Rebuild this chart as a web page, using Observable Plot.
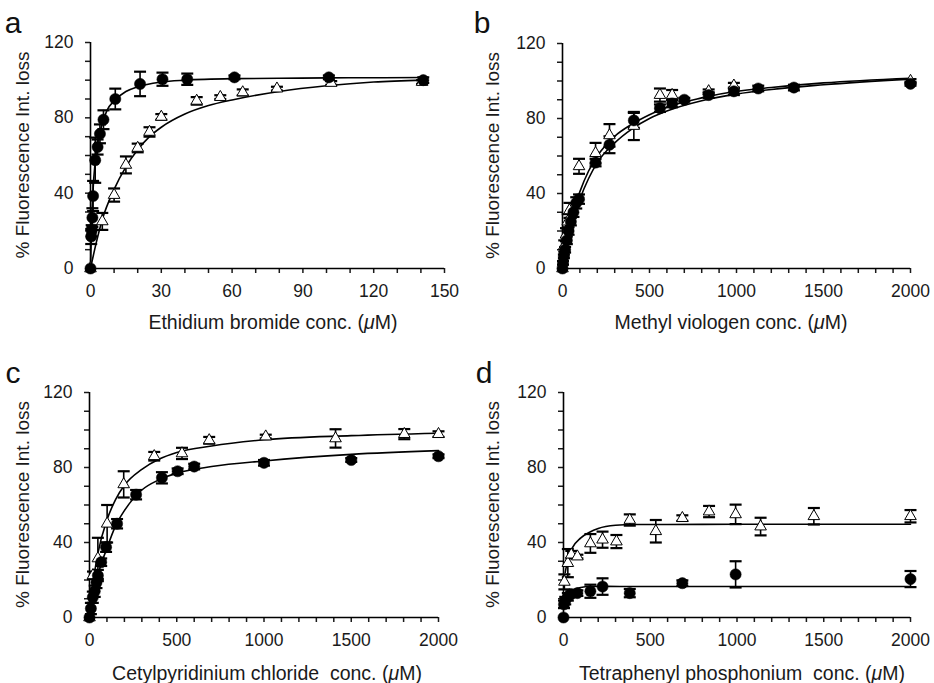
<!DOCTYPE html>
<html><head><meta charset="utf-8">
<script src="https://cdn.jsdelivr.net/npm/d3@7"></script>
<script src="https://cdn.jsdelivr.net/npm/@observablehq/plot@0.6"></script>
<style>
body{margin:0;background:#fff;width:934px;height:683px;position:relative;overflow:hidden;font-family:"Liberation Sans",Arial,sans-serif;}
.panel{position:absolute;}
</style></head><body>
<div id="pa" class="panel" style="left:0;top:0"></div>
<div id="pb" class="panel" style="left:467px;top:0"></div>
<div id="pc" class="panel" style="left:0;top:341px"></div>
<div id="pd" class="panel" style="left:467px;top:341px"></div>
<script>
// ---------- Data ----------
const yTickLabels = [0, 40, 80, 120];
const aXTickLabels = [0, 30, 60, 90, 120, 150];
const bXTickLabels = [0, 500, 1000, 1500, 2000];

// Panel a: Ethidium bromide
const aCircX = [0, 0.3, 0.5, 0.8, 1.1, 2, 3, 4, 5.5, 10.5, 21, 30.5, 41, 61, 101, 141];
const aCircY = [0, 17, 20, 27, 38.5, 57.5, 64.5, 71.5, 79, 90, 98, 100.5, 100.5, 101.5, 101.5, 100];
const aCircE = [0, 4, 3, 5, 8, 12, 4, 5, 5, 5.5, 6.5, 3.5, 3, 1, 1, 1.5];
const aTriX = [0, 5, 10, 15, 20, 25, 30, 45, 55, 64.5, 79, 102, 140.5];
const aTriY = [0, 25, 39, 55, 64, 72.5, 80.5, 89, 91, 93.5, 95.5, 98.5, 99];
const aTriE = [0, 4.5, 3.5, 4.5, 2.3, 2.5, 1.5, 2, 1, 1.6, 1, 1, 1];
const aFitCircX = [0, 0.5, 1, 2, 3, 4, 5, 7, 10, 15, 20, 30, 40, 60, 80, 100, 120, 141];
const aFitCircY = [0, 25, 40, 57, 66, 72, 77, 84, 89, 94, 96.5, 99, 100, 100.8, 101, 101.2, 101.3, 101.4];
const aFitTriX = [0, 2.5, 5, 10, 15, 20, 25, 30, 40, 50, 60, 80, 100, 120, 141];
const aFitTriY = [0, 14, 26, 42, 54, 63, 70, 75, 82, 86.5, 89.5, 94, 97, 99, 100];

// Panel b: Methyl viologen
const bCircX = [0, 3, 8, 15, 25, 35, 48, 63, 79, 95, 190, 270, 410, 560, 630, 700, 840, 985, 1125, 1330, 2000];
const bCircY = [0, 3, 6.5, 10, 15, 20, 25, 30, 35, 37, 56.5, 66, 79, 85.5, 88, 90, 92.5, 94.5, 96, 96.5, 98.5];
const bCircE = [0, 1, 1, 1.5, 2, 2, 2, 2.5, 3, 2.5, 2, 4.5, 4, 2, 2, 1, 1.5, 2, 1.5, 1.5, 1];
const bTriX = [0, 10, 20, 30, 40, 95, 190, 270, 410, 560, 630, 840, 985, 2000];
const bTriY = [0, 12, 18, 25, 31, 54.5, 61.5, 71, 76, 92.5, 92.5, 94.5, 97.5, 100];
const bTriE = [0, 3, 3.5, 4, 4, 4, 5.5, 6, 7.5, 3.5, 2.7, 1, 1.5, 1];
const bFitX = [0, 25, 50, 100, 150, 200, 300, 400, 500, 600, 800, 1000, 1200, 1500, 2000];
const bFitCircY = [0, 12, 22, 37, 48, 56.5, 67, 74.5, 80, 84, 89.5, 93, 95.5, 98, 101];
const bFitTriY = [0, 14, 26, 41, 52, 60, 70.5, 77, 82, 86, 91, 94.5, 96.5, 99, 101.5];

// Panel c: Cetylpyridinium chloride
const cCircX = [0, 8, 19, 30, 40, 48, 67, 95, 158, 267, 415, 505, 600, 1000, 1500, 2000];
const cCircY = [0, 4.8, 10.8, 14, 18.7, 22.4, 29.5, 37.5, 50, 65.5, 74.5, 78, 80.5, 82.5, 84, 86];
const cCircE = [0, 3, 3, 3, 3, 3, 2, 2.5, 2.5, 2.5, 3, 1.5, 1.5, 1.5, 1, 1];
const cTriX = [0, 20, 48, 101, 196, 371, 530, 686, 1010, 1410, 1804, 2000];
const cTriY = [0, 22.5, 31.5, 50, 71, 86, 87.5, 94.5, 96.5, 95.5, 97.8, 97.8];
const cTriE = [0, 2, 11, 10, 7, 2.3, 3, 1.8, 1, 4.9, 2.7, 1.5];
const cFitX = [0, 20, 50, 100, 150, 200, 300, 400, 500, 700, 1000, 1500, 2000];
const cFitCircY = [0, 10, 23, 37, 49, 57, 68, 73.5, 77, 80.5, 83.5, 87, 89];
const cFitTriY = [0, 18, 35, 52, 63, 70.5, 79, 84.5, 88, 91.5, 94.8, 97, 98.3];

// Panel d: Tetraphenyl phosphonium
const dCircX = [0, 3, 10, 25, 45, 80, 155, 225, 382, 685, 992, 2000];
const dCircY = [0, 7, 9, 11, 12.5, 13, 14, 16.5, 13, 18.3, 23, 20.5];
const dCircE = [0, 2, 2, 2, 1.5, 1.5, 3.5, 4.4, 2.2, 1.5, 7, 4.3];
const dTriX = [5, 25, 45, 80, 155, 225, 305, 382, 532, 685, 839, 992, 1136, 1443, 2000];
const dTriY = [19, 29, 33.5, 32.5, 39.5, 41.5, 40.5, 52, 46, 53, 56.5, 55, 48.5, 54, 54];
const dTriE = [4, 7.5, 2, 1, 5, 4.3, 3.5, 3, 6, 1.5, 3, 5.2, 4.7, 4.4, 3.3];
const dFitCircX = [5, 15, 30, 60, 100, 150, 250, 400, 2000];
const dFitCircY = [10, 12, 13.5, 15, 16, 16.5, 16.6, 16.5, 16.5];
const dFitTriX = [10, 25, 50, 100, 150, 200, 300, 400, 600, 1000, 2000];
const dFitTriY = [24, 31, 37, 42.5, 45.5, 47.5, 49.2, 49.6, 49.6, 49.7, 49.7];

// ---------- Rendering ----------
const zip = (xs, ys, es) => xs.map((x, i) => ({x, y: ys[i], e: es ? es[i] : 0}));
const capSymbol = {draw(ctx, size) { const w = Math.sqrt(size / Math.PI); ctx.moveTo(-w, 0); ctx.lineTo(w, 0); }};

function errMarks(data) {
  const d = data.filter(p => p.e > 0);
  return [
    Plot.ruleX(d, {x: "x", y1: p => p.y - p.e, y2: p => p.y + p.e, stroke: "black", strokeWidth: 1.6}),
    Plot.dot(d, {x: "x", y: p => p.y + p.e, symbol: capSymbol, r: 6, fill: "none", stroke: "black", strokeWidth: 2.2}),
    Plot.dot(d, {x: "x", y: p => p.y - p.e, symbol: capSymbol, r: 6, fill: "none", stroke: "black", strokeWidth: 2.2})
  ];
}

function panel(cfg) {
  const circ = zip(cfg.cx, cfg.cy, cfg.ce);
  const tri = zip(cfg.tx, cfg.ty, cfg.te);
  const fitC = zip(cfg.fcx, cfg.fcy);
  const fitT = zip(cfg.ftx, cfg.fty);
  const H = cfg.height;
  const plot = Plot.plot({
    width: 467, height: H,
    marginLeft: cfg.mL, marginRight: cfg.mR, marginTop: cfg.mT, marginBottom: cfg.mB,
    style: {fontFamily: "'Liberation Sans', Arial, sans-serif", fontSize: "17.5px", color: "#1a1a1a", background: "transparent"},
    x: {domain: [0, cfg.xmax]},
    y: {domain: [0, 120]},
    marks: [
      Plot.axisX(d3.range(0, cfg.xmax + 0.001, cfg.xMinor), {tickSize: 5, tickPadding: 11, strokeWidth: 1.5, label: null,
        tickFormat: d => cfg.xLabels.includes(d) ? String(d) : ""}),
      Plot.axisY(d3.range(0, 120.001, 10), {tickSize: 5, tickPadding: 12, strokeWidth: 1.5, label: null,
        tickFormat: d => yTickLabels.includes(d) ? String(d) : ""}),
      Plot.ruleX([0], {y1: 0, y2: 120, stroke: "black", strokeWidth: 1.6}),
      Plot.ruleY([0], {x1: 0, x2: cfg.xmax, stroke: "black", strokeWidth: 1.6}),
      Plot.line(fitT, {x: "x", y: "y", curve: "monotone-x", stroke: "black", strokeWidth: 1.6}),
      Plot.line(fitC, {x: "x", y: "y", curve: "monotone-x", stroke: "black", strokeWidth: 1.6}),
      ...errMarks(tri),
      ...errMarks(circ),
      Plot.dot(tri, {x: "x", y: "y", symbol: "triangle", r: 4.3, fill: "white", stroke: "black", strokeWidth: 1}),
      Plot.dot(circ, {x: "x", y: "y", r: 5.6, fill: "black", stroke: "black", strokeWidth: 0.5})
    ]
  });
  const svg = d3.select(plot);
  svg.style("overflow", "visible");
  // panel letter
  svg.append("text").attr("x", cfg.letterX).attr("y", cfg.letterY)
    .attr("font-size", 30).attr("fill", "#111").text(cfg.letter);
  // y label
  const yMid = (cfg.mT + H - cfg.mB) / 2;
  svg.append("text").attr("transform", `translate(${cfg.yLabX},${yMid}) rotate(-90)`)
    .attr("text-anchor", "middle").attr("dy", "0.35em").attr("font-size", 19).attr("fill", "#1a1a1a")
    .text("% Fluorescence Int. loss");
  // x label with italic mu
  const xl = svg.append("text").attr("x", cfg.xLabX).attr("y", cfg.xLabY)
    .attr("text-anchor", "middle").attr("dy", "0.35em").attr("font-size", 19.5).attr("fill", "#1a1a1a")
    .attr("xml:space", "preserve").style("white-space", "pre");
  xl.append("tspan").text(cfg.xTitle + " (");
  xl.append("tspan").attr("font-style", "italic").text("\u03bc");
  xl.append("tspan").text("M)");
  document.getElementById(cfg.id).appendChild(plot);
}

panel({id: "pa", letter: "a", height: 341, mL: 90, mR: 23, mT: 42, mB: 73, xmax: 150, xMinor: 10, xLabels: aXTickLabels,
  cx: aCircX, cy: aCircY, ce: aCircE, tx: aTriX, ty: aTriY, te: aTriE,
  fcx: aFitCircX, fcy: aFitCircY, ftx: aFitTriX, fty: aFitTriY,
  letterX: 13, letterY: 33, yLabX: 22, xLabX: 273, xLabY: 322, xTitle: "Ethidium bromide conc."});
panel({id: "pb", letter: "b", height: 341, mL: 95, mR: 24, mT: 43, mB: 73, xmax: 2000, xMinor: 100, xLabels: bXTickLabels,
  cx: bCircX, cy: bCircY, ce: bCircE, tx: bTriX, ty: bTriY, te: bTriE,
  fcx: bFitX, fcy: bFitCircY, ftx: bFitX, fty: bFitTriY,
  letterX: 15, letterY: 33, yLabX: 25, xLabX: 264, xLabY: 322, xTitle: "Methyl viologen conc."});
panel({id: "pc", letter: "c", height: 342, mL: 89, mR: 29, mT: 51, mB: 66, xmax: 2000, xMinor: 100, xLabels: bXTickLabels,
  cx: cCircX, cy: cCircY, ce: cCircE, tx: cTriX, ty: cTriY, te: cTriE,
  fcx: cFitX, fcy: cFitCircY, ftx: cFitX, fty: cFitTriY,
  letterX: 13, letterY: 42, yLabX: 22, xLabX: 267, xLabY: 332, xTitle: "Cetylpyridinium chloride  conc."});
panel({id: "pd", letter: "d", height: 342, mL: 96, mR: 24, mT: 51, mB: 66, xmax: 2000, xMinor: 100, xLabels: bXTickLabels,
  cx: dCircX, cy: dCircY, ce: dCircE, tx: dTriX, ty: dTriY, te: dTriE,
  fcx: dFitCircX, fcy: dFitCircY, ftx: dFitTriX, fty: dFitTriY,
  letterX: 17, letterY: 42, yLabX: 25, xLabX: 275, xLabY: 332, xTitle: "Tetraphenyl phosphonium  conc."});
</script>
</body></html>
